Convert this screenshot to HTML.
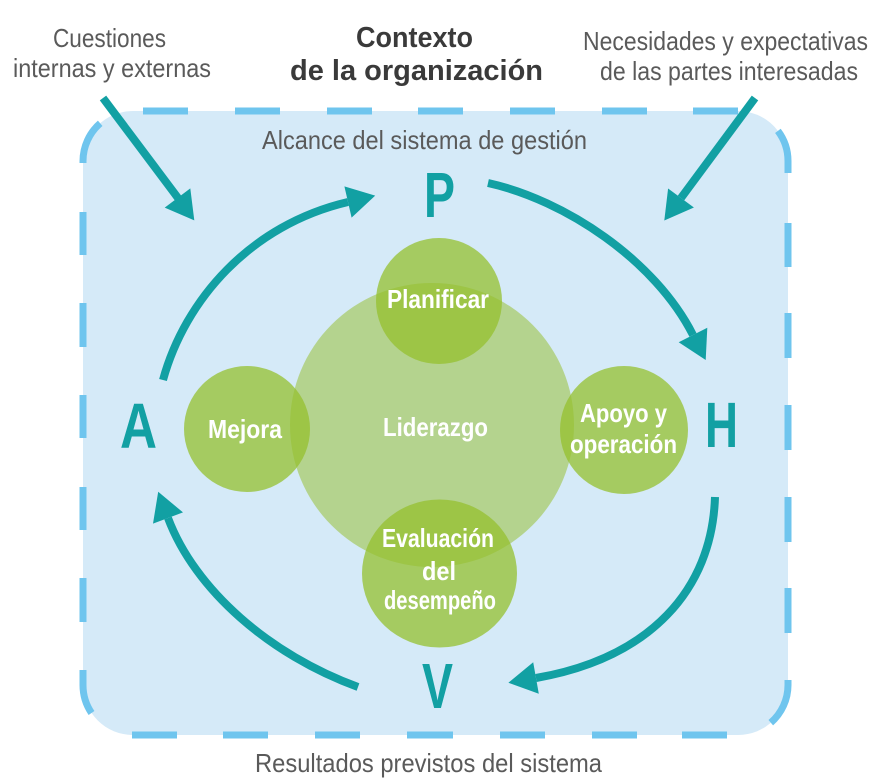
<!DOCTYPE html>
<html>
<head>
<meta charset="utf-8">
<style>
  html,body{margin:0;padding:0;background:#ffffff;}
  svg{display:block;}
  .g{font-family:"Liberation Sans Narrow","Liberation Sans",sans-serif;fill:#5a5a5a;font-size:26px;}
  .t{font-family:"Liberation Sans Narrow","Liberation Sans",sans-serif;fill:#3a3a3a;font-size:29px;font-weight:bold;}
  .L{font-family:"Liberation Sans Narrow","Liberation Sans",sans-serif;fill:#12a0a3;font-size:64px;font-weight:bold;}
  .w{font-family:"Liberation Sans Narrow","Liberation Sans",sans-serif;fill:#ffffff;font-size:26px;font-weight:bold;}
</style>
</head>
<body>
<svg width="879" height="782" viewBox="0 0 879 782" xmlns="http://www.w3.org/2000/svg">
  <rect x="0" y="0" width="879" height="782" fill="#ffffff"/>

  <!-- box -->
  <rect x="83" y="111" width="705" height="624" rx="50" ry="50" fill="#d5eaf8"/>
  <g stroke="#6fc5ee" stroke-width="7" fill="none" stroke-linecap="butt">
    <path d="M143,111H188 M235,111H280 M327,111H372 M418,111H463 M510,111H555 M602,111H647 M693,111H738"/>
    <path d="M132,735H177 M223,735H268 M315,735H360 M407,735H453 M500,735H545 M592,735H637 M682,735H727"/>
    <path d="M788,223V267 M788,313V358 M788,405V450 M788,497V542 M788,588V633"/>
    <path d="M83,212V255 M83,303V347 M83,395V438 M83,487V530 M83,578V622"/>
    <path d="M83,163 L83,161 A50,50 0 0 1 100.2,123.3"/>
    <path d="M777.9,130.9 A50,50 0 0 1 788,161 L788,173"/>
    <path d="M788,680 L788,685 A50,50 0 0 1 770.8,722.7"/>
    <path d="M91.5,713 A50,50 0 0 1 83,685 L83,670"/>
  </g>

  <!-- circles -->
  <circle cx="432" cy="425" r="142" fill="#b4d38e"/>
  <g fill="#94c02d" fill-opacity="0.74">
    <circle cx="439" cy="301" r="63"/>
    <circle cx="247" cy="429" r="63"/>
    <circle cx="624" cy="430" r="64"/>
    <ellipse cx="439.5" cy="573.5" rx="77.5" ry="74"/>
  </g>

  <!-- arcs -->
  <g stroke="#12a0a3" stroke-width="8" fill="none" stroke-linecap="butt">
    <path d="M163,380 C185,300 250,225 348,202"/>
    <path d="M488,183 C565,200 655,260 693,335"/>
    <path d="M715,497 C712,590 650,658 536,678"/>
    <path d="M358,687 C270,655 195,590 168,518"/>
    <path d="M103,98 L178,198"/>
    <path d="M755,98 L681,198"/>
  </g>
  <g fill="#12a0a3">
    <polygon points="375.2,195.6 351.6,217.6 344.4,186.4"/>
    <polygon points="705.7,360 707.3,327.8 678.7,342.2"/>
    <polygon points="508.4,682.8 538.8,693.8 533.2,662.2"/>
    <polygon points="158.2,491.8 183,512.4 153,523.6"/>
    <polygon points="194.3,220.4 190.3,188.4 164.7,207.6"/>
    <polygon points="664.3,220.5 693.9,207.5 668.1,188.5"/>
  </g>

  <!-- gray texts -->
  <text class="g" x="53" y="47" textLength="113" lengthAdjust="spacingAndGlyphs">Cuestiones</text>
  <text class="g" x="13" y="77" textLength="198" lengthAdjust="spacingAndGlyphs">internas y externas</text>
  <text class="g" x="583" y="50" textLength="285" lengthAdjust="spacingAndGlyphs">Necesidades y expectativas</text>
  <text class="g" x="600" y="80" textLength="258" lengthAdjust="spacingAndGlyphs">de las partes interesadas</text>
  <text class="g" x="262" y="149" textLength="325" lengthAdjust="spacingAndGlyphs">Alcance del sistema de gestión</text>
  <text class="g" x="255" y="772" textLength="347" lengthAdjust="spacingAndGlyphs">Resultados previstos del sistema</text>

  <!-- title -->
  <text class="t" x="356" y="47" textLength="117" lengthAdjust="spacingAndGlyphs">Contexto</text>
  <text class="t" x="290" y="80" textLength="253" lengthAdjust="spacingAndGlyphs">de la organización</text>

  <!-- PHVA letters -->
  <text class="L" x="424" y="217" textLength="31" lengthAdjust="spacingAndGlyphs">P</text>
  <text class="L" x="120" y="448" textLength="37" lengthAdjust="spacingAndGlyphs">A</text>
  <text class="L" x="705" y="447" textLength="33" lengthAdjust="spacingAndGlyphs">H</text>
  <text class="L" x="422" y="708" textLength="31" lengthAdjust="spacingAndGlyphs">V</text>

  <!-- circle labels -->
  <text class="w" x="387" y="308" textLength="102" lengthAdjust="spacingAndGlyphs">Planificar</text>
  <text class="w" x="383" y="436" textLength="105" lengthAdjust="spacingAndGlyphs">Liderazgo</text>
  <text class="w" x="208" y="438" textLength="74" lengthAdjust="spacingAndGlyphs">Mejora</text>
  <text class="w" x="580" y="422" textLength="87" lengthAdjust="spacingAndGlyphs">Apoyo y</text>
  <text class="w" x="570" y="453" textLength="107" lengthAdjust="spacingAndGlyphs">operación</text>
  <text class="w" x="382" y="547" textLength="112" lengthAdjust="spacingAndGlyphs">Evaluación</text>
  <text class="w" x="422" y="580" textLength="34" lengthAdjust="spacingAndGlyphs">del</text>
  <text class="w" x="384" y="609" textLength="112" lengthAdjust="spacingAndGlyphs">desempeño</text>
</svg>
</body>
</html>
